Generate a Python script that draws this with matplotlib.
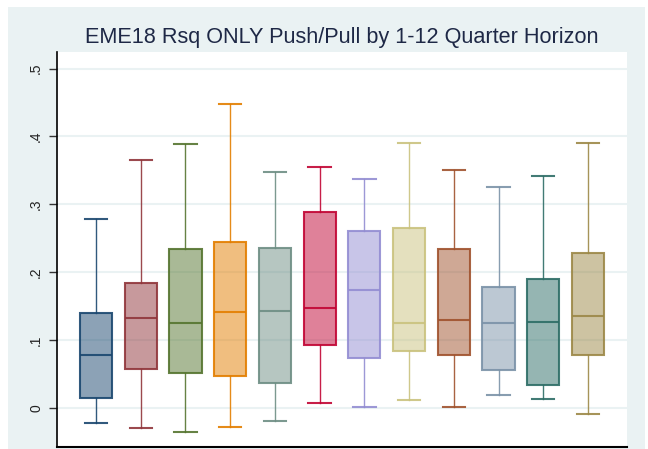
import numpy as np
import matplotlib.pyplot as plt
from matplotlib.patches import Rectangle
from matplotlib.colors import to_rgba

plt.rcParams['font.family'] = ['Liberation Sans', 'DejaVu Sans']

# horizon 1..12, box statistics
horizon = list(range(1, 13))
whislo = [-0.022, -0.030, -0.036, -0.028, -0.020, 0.007, 0.001, 0.011, 0.001, 0.019, 0.013, -0.010]
q1 = [0.015, 0.057, 0.051, 0.047, 0.037, 0.092, 0.074, 0.084, 0.078, 0.055, 0.033, 0.078]
med = [0.078, 0.133, 0.125, 0.141, 0.143, 0.147, 0.173, 0.125, 0.129, 0.125, 0.127, 0.135]
q3 = [0.139, 0.184, 0.234, 0.245, 0.236, 0.289, 0.261, 0.265, 0.234, 0.178, 0.190, 0.228]
whishi = [0.279, 0.365, 0.389, 0.448, 0.348, 0.355, 0.338, 0.391, 0.350, 0.326, 0.342, 0.391]

# stata s2color palette
colors = ['#1a476f', '#90353b', '#55752f', '#e37e00', '#6e8e84', '#c10534',
          '#938dd2', '#cac27e', '#a0522d', '#7b92a8', '#2d6d66', '#9c8847']

fig = plt.figure(figsize=(6.48, 4.49), dpi=100)
fig.patch.set_facecolor('white')
# light graph region
fig.add_artist(Rectangle((8/648, 0), (645-8)/648, (449-7)/449, transform=fig.transFigure,
                         facecolor='#eaf2f3', edgecolor='none', zorder=-10))

ax = fig.add_axes([57/648, 2/449, 570/648, 395/449])
ax.set_facecolor('white')

for i in range(12):
    st = [{'whislo': whislo[i], 'q1': q1[i], 'med': med[i], 'q3': q3[i], 'whishi': whishi[i]}]
    c = colors[i]
    ax.bxp(st, positions=[horizon[i]], widths=0.72, showfliers=False, patch_artist=True,
           boxprops=dict(facecolor=to_rgba(c, 0.5), edgecolor=to_rgba(c, 0.9), linewidth=1.5),
           medianprops=dict(color=to_rgba(c, 0.9), linewidth=1.5),
           whiskerprops=dict(color=to_rgba(c, 0.9), linewidth=1.0),
           capprops=dict(color=to_rgba(c, 0.9), linewidth=1.5), capwidths=0.5)

ax.set_xlim(0.127, 12.873)
ax.set_ylim(-0.058, 0.5246)
ax.set_xticks([])
ax.set_yticks([0, 0.1, 0.2, 0.3, 0.4, 0.5])
ax.set_yticklabels(['0', '.1', '.2', '.3', '.4', '.5'], rotation=90, va='center', fontsize=10,
                   color='#222222')
ax.tick_params(axis='y', length=6, width=1, color='#333333', pad=4)
ax.grid(axis='y', color='#eaf2f3', linewidth=1.5)
ax.set_axisbelow(True)
for s in ['top', 'right']:
    ax.spines[s].set_visible(False)
ax.spines['left'].set_linewidth(1.2)
ax.spines['bottom'].set_linewidth(1.5)

fig.text(342/648, 1 - 37/449, 'EME18 Rsq ONLY Push/Pull by 1-12 Quarter Horizon',
         ha='center', va='center', fontsize=15.6, color='#1e2846')

fig.savefig('out.png', dpi=100)
